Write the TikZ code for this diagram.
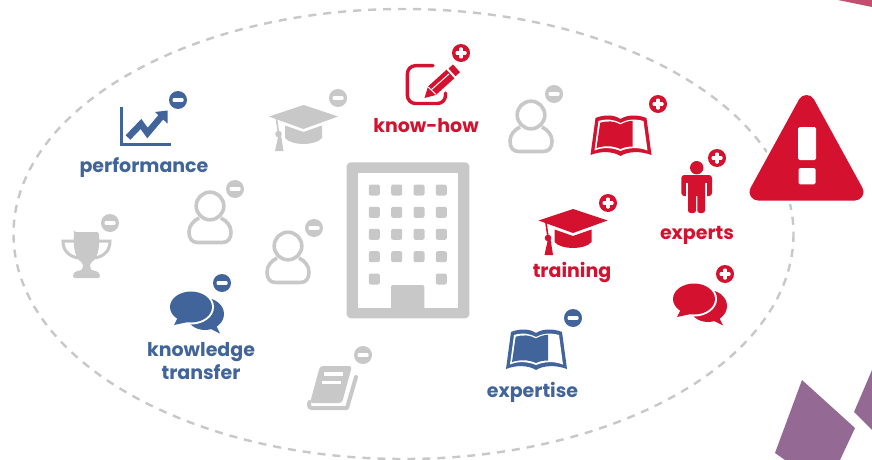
\documentclass[tikz,border=0pt]{standalone}
\usepackage{fontspec}
\setmainfont{Poppins}[BoldFont={Poppins Bold}]
\definecolor{cred}{HTML}{D4122F}
\definecolor{cblue}{HTML}{41659B}
\definecolor{cgray}{HTML}{C8C8C8}
\definecolor{cpurple}{HTML}{946A94}
\definecolor{cpink}{HTML}{C0506E}
\tikzset{
  lbl/.style={font=\fontsize{19}{23}\selectfont\bfseries,inner sep=0pt,align=center},
  pics/minusbadge/.style={code={
    \fill[#1] (0,0) circle (9);
    \fill[white,rounded corners=1] (-5.5,-1.8) rectangle (5.5,1.8);
  }},
  pics/plusbadge/.style={code={
    \fill[#1] (0,0) circle (9);
    \fill[white,rounded corners=1] (-5.5,-1.8) rectangle (5.5,1.8);
    \fill[white,rounded corners=1] (-1.8,-5.5) rectangle (1.8,5.5);
  }},
  pics/personicon/.style={code={
    \draw[#1,line width=3.6] (0,0) circle (13.8);
    \draw[#1,line width=3.6,line join=round]
      (-11,12) .. controls (-17,15) and (-21,20) .. (-21,26)
      .. controls (-21,33) and (-18,36.5) .. (-12,36.5) -- (12,36.5)
      .. controls (18,36.5) and (21,33) .. (21,26)
      .. controls (21,20) and (17,15) .. (11,12);
  }},
  pics/capicon/.style={code={
    \fill[#1] (0,0) -- (-34.5,11.5) -- (0,24) -- (34.5,11.5) -- cycle;
    \fill[#1] (-18.5,20.5) -- (0,27) -- (18.5,20.5) -- (18.5,33)
      .. controls (12,41) and (-12,41) .. (-18.5,33) -- cycle;
    \draw[#1,line width=1.6] (-27,14) -- (-25,28);
    \fill[#1] (-25,29) circle (3.3);
    \fill[#1] (-25,30) -- (-28.5,46) -- (-20,46) -- (-22.5,30) -- cycle;
  }},
  pics/bookicon/.style={code={
    \fill[#1] (-30,37) -- (-25,0) .. controls (-15,-4) and (-6,-3) .. (0,1)
      .. controls (6,-3) and (16,-4) .. (26,0) -- (31,37)
      .. controls (20,33) and (8,33) .. (0,38)
      .. controls (-8,33) and (-20,33) .. (-30,37) -- cycle;
    \fill[white] (-26,32.5) -- (-22,3) .. controls (-14,0.5) and (-6,1.5) .. (0,5)
      .. controls (6,1.5) and (14,0.5) .. (23,3) -- (27,32.5)
      .. controls (18,29) and (8,29.5) .. (0,33)
      .. controls (-8,29.5) and (-18,29) .. (-26,32.5) -- cycle;
    \fill[#1] (-24,30) -- (-20.3,4.7) .. controls (-13,2.5) and (-6,3) .. (0,6.5)
      .. controls (4,4) and (8,3) .. (12,2.8) -- (12,28.5)
      .. controls (8,28.5) and (4,29) .. (0,31)
      .. controls (-8,27.5) and (-16,27.5) .. (-24,30) -- cycle;
  }},
  pics/chaticon/.style={code={
    \fill[#1] (14,7) ellipse (19 and 16);
    \fill[#1] (16,20) -- (29,26.5) -- (23,14) -- cycle;
    \fill[white] (0,0) ellipse (23 and 17.5);
    \fill[#1] (0,0) ellipse (21 and 15.5);
    \fill[#1] (-13,10) -- (-17,18) -- (-3,15) -- cycle;
  }}
}
\begin{document}
\begin{tikzpicture}[x=1pt,y=-1pt]
\useasboundingbox (0,0) rectangle (872,460);
\fill[white] (0,0) rectangle (872,460);
% background corner shapes
\fill[cpink] (838,0) -- (872,0) -- (872,7) -- cycle;
\fill[cpurple] (802,380) -- (855,428) -- (840,460) -- (785,460) -- (775,453) -- cycle;
\fill[cpurple] (872,370) -- (854,412) -- (872,430) -- cycle;
% ellipse
\draw[cgray,line width=2.4,dash pattern=on 8pt off 7pt] (403.5,234) ellipse (390 and 225);
% building
\fill[cgray,rounded corners=4] (346.7,162.3) rectangle (469.3,318.3);
\fill[white] (357.7,173.3) rectangle (458.3,307.7);
\foreach \yy in {190,212.3,234.3,256.7}
  \foreach \xx in {374.3,396.7,419,441.3}
    \fill[cgray,rounded corners=2] (\xx-5.5,\yy-5.5) rectangle (\xx+5.5,\yy+5.5);
\foreach \xx in {374.3,441.3}
  \fill[cgray,rounded corners=2] (\xx-5.5,273.5) rectangle (\xx+5.5,284.5);
\fill[cgray,rounded corners=2] (391,312) -- (391,285) -- (424.3,285) -- (424.3,312) -- cycle;
% chart
\fill[cblue] (120,107) rectangle (123,146);
\fill[cblue] (120,143) rectangle (170.7,146);
\draw[cblue,line width=6.5,line join=miter] (128,137.5) -- (141,124) -- (147.5,133) -- (161,117);
\fill[cblue] (155,112) -- (167.5,110.5) -- (167.5,123.5) -- cycle;
\path (178,100) pic {minusbadge=cblue};
\node[lbl,text=cblue] (performance) at (144,167.5) {performance};
% cap gray
\path (303.5,105) pic {capicon=cgray};
\path (338,98) pic {minusbadge=cgray};
% persons
\path (210,206) pic {personicon=cgray};
\path (235,189) pic {minusbadge=cgray};
\path (288,246) pic {personicon=cgray};
\path (314,228) pic {minusbadge=cgray};
\path (531,115) pic {personicon=cgray};
\path (554,94) pic {minusbadge=cgray};
% trophy
\fill[cgray,rounded corners=2] (74,232) -- (99,232) .. controls (100,250) and (97,259) .. (90,263) -- (90,268)
  .. controls (92,271) and (100,270) .. (100,278) -- (73,278)
  .. controls (73,270) and (81,271) .. (83,268) -- (83,263)
  .. controls (76,259) and (73,250) .. (74,232) -- cycle;
\draw[cgray,line width=3] (74,241) -- (63,241) .. controls (63,250) and (68,256) .. (78,258);
\draw[cgray,line width=3] (98,241) -- (110,241) .. controls (110,250) and (105,256) .. (95,258);
\path (110,223) pic {minusbadge=cgray};
% know-how
\draw[cred,line width=3.4,line cap=round,rounded corners=8] (433,65.7) -- (407.4,65.7) -- (407.4,103.5) -- (445.5,103.5) -- (445.5,93);
\fill[cred] (424.5,98) -- (428,86.5) -- (446.5,69.7) -- (454.3,78.3) -- (435.8,95) -- cycle;
\draw[white,line width=1] (431,90) -- (449,74);
\draw[white,line width=1] (428,87) -- (435.9,94.4);
\fill[cred] (448.5,68.5) -- (453,64.5) -- (460,72.2) -- (455.5,76.2) -- cycle;
\path (461,53) pic {plusbadge=cred};
\node[lbl,text=cred] (knowhow) at (426,125.5) {know-how};
% books
\path (620.5,118) pic {bookicon=cred};
\path (658,104) pic {plusbadge=cred};
\path (536,332) pic {bookicon=cblue};
\path (573,318) pic {minusbadge=cblue};
\node[lbl,text=cblue] (expertise) at (532.5,392) {expertise};
% figure
\fill[cred] (696.7,167.7) circle (6.7);
\fill[cred,rounded corners=3] (681.3,175) rectangle (712,196);
\fill[white] (686,183) rectangle (688,197);
\fill[white] (705,183) rectangle (707,197);
\fill[cred,rounded corners=2.5] (688,180) rectangle (696,213);
\fill[cred,rounded corners=2.5] (697.3,180) rectangle (705,213);
\fill[cred] (688,176) rectangle (705,193);
\path (717,158) pic {plusbadge=cred};
\node[lbl,text=cred] (experts) at (697,235) {experts};
% training
\path (573,209) pic {capicon=cred};
\path (608,203) pic {plusbadge=cred};
\node[lbl,text=cred] (training) at (572,272) {training};
% chats
\path (694,299) pic {chaticon=cred};
\path (725,274) pic {plusbadge=cred};
\path (191,307) pic {chaticon=cblue};
\path (222,283) pic {minusbadge=cblue};
\node[lbl,text=cblue] (knowledge) at (201,361) {knowledge\\transfer};
% notebook
\fill[cgray,rounded corners=3] (320,366) -- (352,366) -- (342,403) -- (310,403) -- cycle;
\draw[cgray,line width=4,line cap=round,line join=round] (356,377) -- (347,408) -- (312,408) .. controls (309,408) and (308.5,405) .. (309.5,402);
\draw[white,line width=3.4] (324,374) -- (343,374);
\draw[white,line width=3.4] (322,382.5) -- (341,382.5);
\path (363,355) pic {minusbadge=cgray};
% warning
\draw[white,fill=white,line width=24,line join=round] (806.5,103.5) -- (759,192) -- (854,192) -- cycle;
\draw[cred,fill=cred,line width=17,line join=round] (806.5,103.5) -- (758,192) -- (855,192) -- cycle;
\fill[white,rounded corners=1.5] (798,127) rectangle (816,160);
\fill[white,rounded corners=1.5] (798.5,168) rectangle (815.5,184.3);
\end{tikzpicture}
\end{document}
